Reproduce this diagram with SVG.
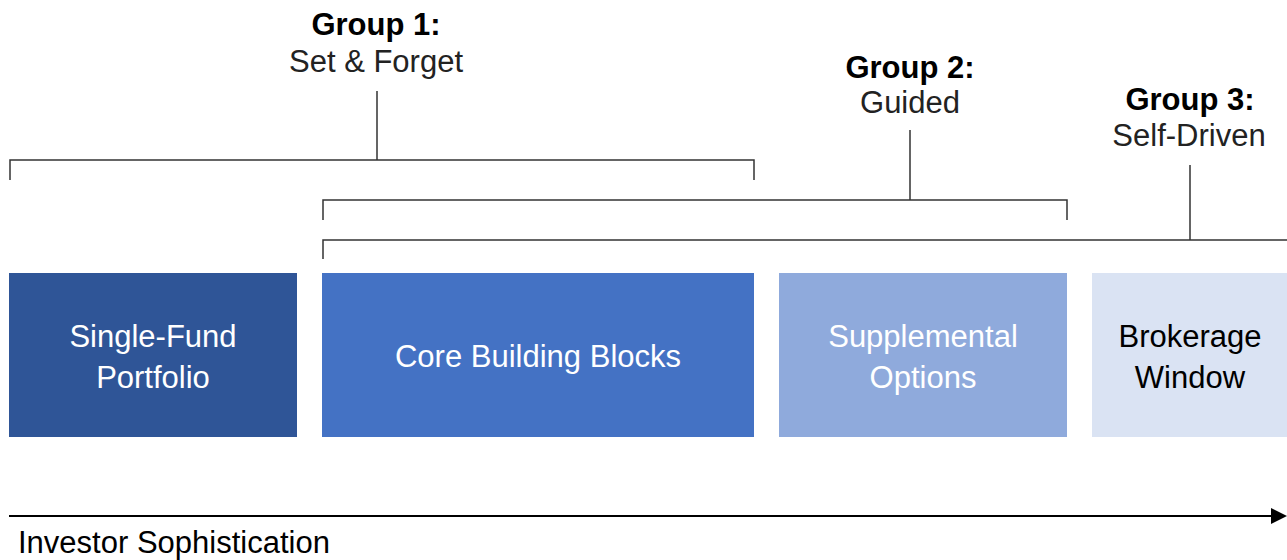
<svg xmlns="http://www.w3.org/2000/svg" width="1287" height="560" viewBox="0 0 1287 560">
<style>
text{font-family:"Liberation Sans",Arial,sans-serif;}
.hd{font-size:31px;font-weight:bold;fill:#000;text-anchor:middle;}
.sub{font-size:31px;fill:#222;text-anchor:middle;}
.bt{font-size:31px;text-anchor:middle;}
.br{fill:none;stroke:#333;stroke-width:1.5;}
</style>
<rect width="1287" height="560" fill="#fff"/>
<g id="group1-label">
<text class="hd" x="376" y="35">Group 1:</text>
<text class="sub" x="376" y="72">Set &amp; Forget</text>
</g>
<g id="group2-label">
<text class="hd" x="910" y="78">Group 2:</text>
<text class="sub" x="910" y="113">Guided</text>
</g>
<g id="group3-label">
<text class="hd" x="1190" y="110">Group 3:</text>
<text class="sub" x="1189" y="146">Self-Driven</text>
</g>
<g id="connectors">
<path class="br" d="M10,180 V160 H754 V180 M377,160 V91"/>
<path class="br" d="M323,220 V200 H1067 V220 M910,200 V130"/>
<path class="br" d="M323,259 V240 H1287 M1190,240 V165"/>
<line x1="9" y1="516" x2="1272" y2="516" stroke="#000" stroke-width="2"/>
<path d="M1271,508 L1287,516 L1271,524 Z" fill="#000"/>
</g>
<g id="single-fund">
<rect x="9" y="273" width="288" height="164" fill="#2F5597"/>
<text class="bt" x="153" y="347" fill="#fff">Single-Fund</text>
<text class="bt" x="153" y="388" fill="#fff">Portfolio</text>
</g>
<g id="core">
<rect x="322" y="273" width="432" height="164" fill="#4472C4"/>
<text class="bt" x="538" y="367" fill="#fff">Core Building Blocks</text>
</g>
<g id="supplemental">
<rect x="779" y="273" width="288" height="164" fill="#8FAADC"/>
<text class="bt" x="923" y="347" fill="#fff">Supplemental</text>
<text class="bt" x="923" y="388" fill="#fff">Options</text>
</g>
<g id="brokerage">
<rect x="1092" y="273" width="195" height="164" fill="#DAE3F3"/>
<text class="bt" x="1190" y="347" fill="#000">Brokerage</text>
<text class="bt" x="1190" y="388" fill="#000">Window</text>
</g>
<g id="axis-label">
<text x="18" y="553" style="font-size:31px;fill:#000">Investor Sophistication</text>
</g>
</svg>
